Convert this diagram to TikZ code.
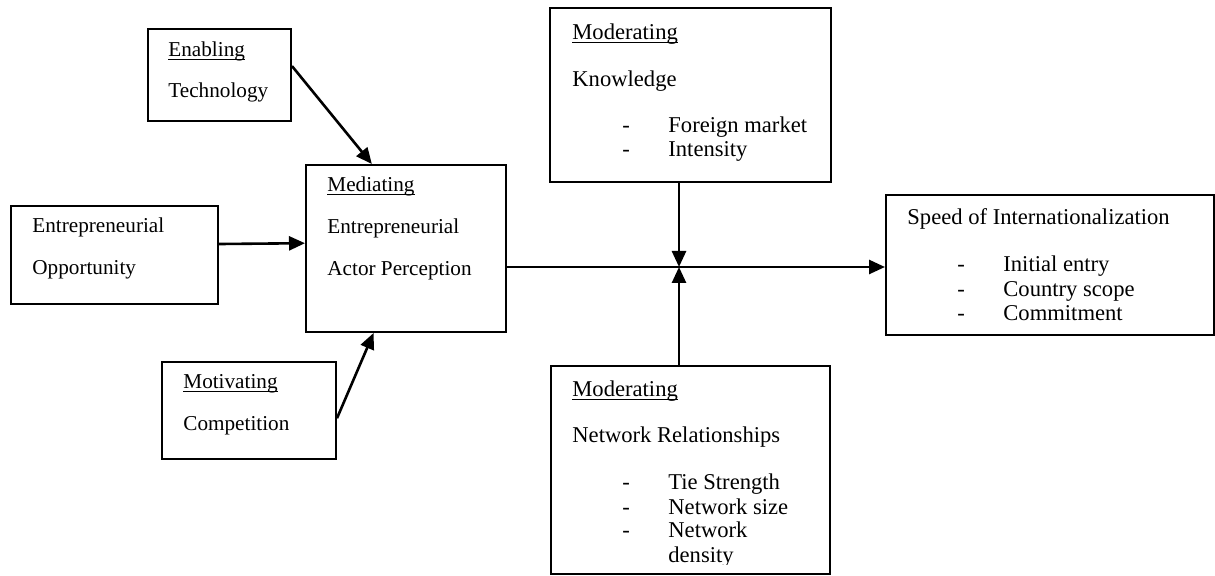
\documentclass[tikz,border=0pt]{standalone}
\usepackage{fontspec}
\setmainfont{Liberation Serif}
\usetikzlibrary{arrows.meta}
\newcommand{\lfont}{\fontsize{10.6}{12.7}\selectfont}
\newcommand{\rfont}{\fontsize{11.3}{12.2}\selectfont}
\newcommand{\undl}[1]{\underline{\smash{#1}}}
\newcommand{\itm}[1]{\makebox[23pt][l]{-}#1}
\tikzset{
  box/.style   = {rectangle, draw, line width=1pt, inner sep=0pt},
  ltext/.style = {anchor=base west, inner sep=0pt, font=\lfont},
  rtext/.style = {anchor=base west, inner sep=0pt, font=\rfont},
  arr/.style   = {line width=1.3pt, -{Triangle[length=8pt,width=7pt]}}
}

\begin{document}
\begin{tikzpicture}[x=0.5pt,y=-0.5pt]
 \useasboundingbox (0,0) rectangle (1215,576);

  % boxes
  \node[box, minimum width=71.5pt, minimum height=46pt] (tech)  at (219.5,75)  {};
  \node[box, minimum width=103.5pt, minimum height=49pt] (opp)  at (114.5,255) {};
  \node[box, minimum width=100pt, minimum height=83.5pt] (med)  at (406,248.5) {};
  \node[box, minimum width=87pt, minimum height=48.5pt] (comp)  at (249,410.5) {};
  \node[box, minimum width=140.5pt, minimum height=87pt] (know) at (690.5,95)  {};
  \node[box, minimum width=139.5pt, minimum height=104pt] (net) at (690.5,470) {};
  \node[box, minimum width=164pt, minimum height=70pt] (speed)  at (1050,265)  {};
  \coordinate (jn) at (679,267);

  % texts, left
  \node[ltext] (techA) at (168,57)  {\undl{Enabling}};
  \node[ltext] (techB) at (168,98)  {Technology};
  \node[ltext] (oppA)  at (32,233)  {Entrepreneurial};
  \node[ltext] (oppB)  at (32,275)  {Opportunity};
  \node[ltext] (medA)  at (327,192) {\undl{Mediating}};
  \node[ltext] (medB)  at (327,234) {Entrepreneurial};
  \node[ltext] (medC)  at (327,276) {Actor Perception};
  \node[ltext] (compA) at (183,389) {\undl{Motivating}};
  \node[ltext] (compB) at (183,431) {Competition};

  % texts, right
  \node[rtext] (knowA) at (572,40)  {\undl{Moderating}};
  \node[rtext] (knowB) at (572,87)  {Knowledge};
  \node[rtext] (knowC) at (622,133) {\itm{Foreign market}};
  \node[rtext] (knowD) at (622,157) {\itm{Intensity}};
  \node[rtext] (netA)  at (572,397) {\undl{Moderating}};
  \node[rtext] (netB)  at (572,443) {Network Relationships};
  \node[rtext] (netC)  at (622,490) {\itm{Tie Strength}};
  \node[rtext] (netD)  at (622,515) {\itm{Network size}};
  \node[rtext] (netE)  at (622,538) {\itm{Network}};
  \begin{scope}
    \clip (600,545) rectangle (800,564.5);
    \node[rtext] (netF) at (668,563) {density};
  \end{scope}
  \node[rtext] (speedA) at (907,225) {Speed of Internationalization};
  \node[rtext] (speedB) at (957,272) {\itm{Initial entry}};
  \node[rtext] (speedC) at (957,297) {\itm{Country scope}};
  \node[rtext] (speedD) at (957,321) {\itm{Commitment}};

  % arrows
  \draw[arr] (tech.7)   -- (med.112);
  \draw[arr] (opp.6)    -- (med.177);
  \draw[arr] (comp.-5)  -- (med.-111);
  \draw[arr] (jn -| med.east) -- (jn -| speed.west);
  \draw[arr] (know.south -| jn) -- (jn);
  \draw[arr] (net.north -| jn)  -- (jn);
\end{tikzpicture}
\end{document}
